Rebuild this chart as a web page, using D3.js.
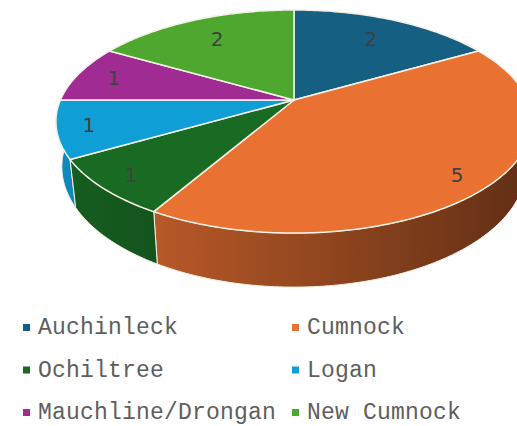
<!DOCTYPE html>
<html>
<head>
  <meta charset="utf-8">
  <style>
    body { margin: 0; background: #fff; }
    .val { font-family: "DejaVu Sans", sans-serif; font-size: 20px; fill: #404040; }
    .leg { font-family: "Liberation Mono", monospace; font-size: 23px; letter-spacing: 0.2px; fill: #5e5e5e; }
  </style>
  <script src="https://d3js.org/d3.v7.min.js"></script>
</head>
<body>
  <script>
    // data
    const towns = ["Auchinleck", "Cumnock", "Ochiltree", "Logan", "Mauchline/Drongan", "New Cumnock"];
    const counts = [2, 5, 1, 1, 1, 2];
    const colours = ["#156082", "#E97132", "#196B24", "#0F9ED5", "#A02B93", "#4EA72E"];

    const width = 517, height = 426;

    // perspective disc: centre, radii, tilt, thickness, and how much the far (bottom) face shrinks
    const cx = 294, cy = 100, A = 233.6, B = 107.4, k = 0.193, D = 43.6, shrink = 0.975;

    const color = d3.scaleOrdinal().domain(towns).range(colours);

    const svg = d3.select('body').append('svg')
      .attr('width', width)
      .attr('height', height);

    const defs = svg.append('defs');

    // theta clockwise from 12 o'clock, r in 0..1, z 0 = top face, 1 = bottom
    function proj(theta, r, z) {
      const u = r * Math.sin(theta), v = -r * Math.cos(theta);
      const w = 1 - k * v;
      const s = z ? shrink : 1;
      return [cx + A * s * u / w, cy + (B * v + z * D) / w];
    }

    function arcPts(a0, a1, z) {
      const n = Math.max(2, Math.ceil((a1 - a0) / (Math.PI / 180)));
      return d3.range(n + 1).map(i => proj(a0 + (a1 - a0) * i / n, 1, z));
    }

    const line = d3.line();

    const pie = d3.pie().sort(null).value(d => d.count);
    const arcs = pie(towns.map((t, i) => ({ town: t, count: counts[i] })));

    // darker gradient for the side walls
    arcs.forEach((d, i) => {
      const c = d3.rgb(color(d.data.town));
      const g = defs.append('linearGradient')
        .attr('id', 'side' + i)
        .attr('gradientUnits', 'userSpaceOnUse')
        .attr('x1', cx - A).attr('x2', cx + A)
        .attr('y1', 0).attr('y2', 0);
      const sc = f => d3.rgb(c.r * f, c.g * f, c.b * f).formatHex();
      g.append('stop').attr('offset', 0).attr('stop-color', sc(0.88));
      g.append('stop').attr('offset', 1).attr('stop-color', sc(0.42));
    });

    // walls, back first
    const walls = arcs.map((d, i) => ({ d, i, depth: -Math.cos((d.startAngle + d.endAngle) / 2) }))
      .sort((a, b) => a.depth - b.depth);

    svg.append('g').selectAll('path')
      .data(walls)
      .join('path')
      .attr('d', w => {
        const top = arcPts(w.d.startAngle, w.d.endAngle, 0);
        const bot = arcPts(w.d.startAngle, w.d.endAngle, 1).reverse();
        return line(top.concat(bot)) + 'Z';
      })
      .attr('fill', w => `url(#side${w.i})`)
      .attr('stroke', '#f4f1e6')
      .attr('stroke-width', 1)
      .attr('stroke-linejoin', 'round');

    // top faces
    svg.append('g').selectAll('path')
      .data(arcs)
      .join('path')
      .attr('d', d => line([proj(0, 0, 0)].concat(arcPts(d.startAngle, d.endAngle, 0))) + 'Z')
      .attr('fill', d => color(d.data.town))
      .attr('stroke', '#f4f1e6')
      .attr('stroke-width', 1.5)
      .attr('stroke-linejoin', 'round');

    // value labels, pulled in a little towards the back
    svg.append('g').selectAll('text')
      .data(arcs)
      .join('text')
      .attr('class', 'val')
      .attr('text-anchor', 'middle')
      .attr('dy', '0.36em')
      .attr('transform', d => {
        const m = (d.startAngle + d.endAngle) / 2;
        const r = 0.87 + 0.15 * Math.min(0, -Math.cos(m));
        const p = proj(m, r, 0);
        return `translate(${p[0]},${p[1]})`;
      })
      .text(d => d.data.count);

    // legend, two columns
    const col = d3.scaleOrdinal().domain([0, 1]).range([23, 292]);
    const row = d3.scalePoint().domain([0, 1, 2]).range([334, 419]);

    const leg = svg.append('g').selectAll('g')
      .data(towns)
      .join('g')
      .attr('transform', (t, i) => `translate(${col(i % 2)},${row(Math.floor(i / 2))})`);

    leg.append('rect')
      .attr('x', 0).attr('y', -10)
      .attr('width', 7).attr('height', 7)
      .attr('fill', t => color(t));

    leg.append('text')
      .attr('class', 'leg')
      .attr('x', 15)
      .text(t => t);
  </script>
</body>
</html>
